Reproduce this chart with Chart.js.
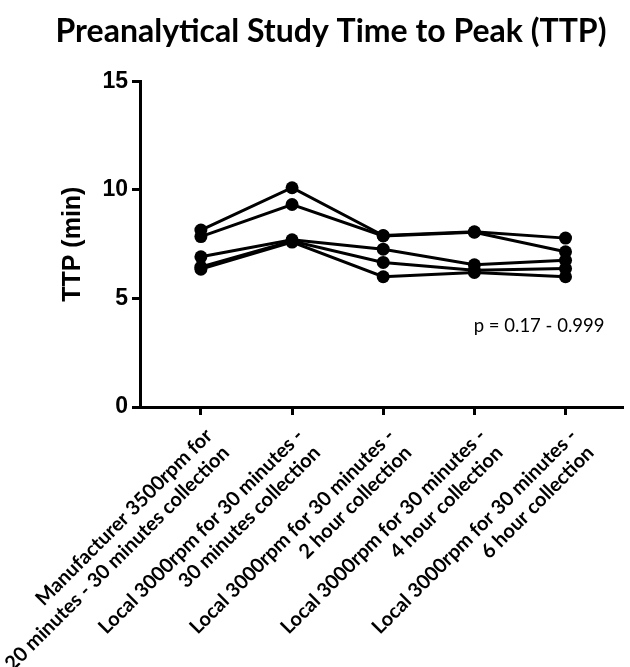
<!DOCTYPE html>
<html>
<head>
<meta charset="utf-8">
<script src="https://cdn.jsdelivr.net/npm/chart.js@4.4.0/dist/chart.umd.min.js"></script>
<style>
	html, body { margin: 0; padding: 0; background: #fff; }
	#wrap { width: 630px; height: 667px; }
</style>
</head>
<body>
<div id="wrap"><canvas id="myChart" width="630" height="667"></canvas></div>
<script>
// categories (two lines each, as on the original axis)
let categories = [
	['Manufacturer 3500rpm for', '20 minutes - 30 minutes collection'],
	['Local 3000rpm for 30 minutes -', '30 minutes collection'],
	['Local 3000rpm for 30 minutes -', '2 hour collection'],
	['Local 3000rpm for 30 minutes -', '4 hour collection'],
	['Local 3000rpm for 30 minutes -', '6 hour collection'],
]

// TTP (min) for each sample
let sample1 = [8.15, 10.1, 7.9, 8.07, 7.78]
let sample2 = [7.85, 9.33, 7.88, 8.05, 7.15]
let sample3 = [6.92, 7.7, 7.27, 6.55, 6.76]
let sample4 = [6.45, 7.65, 6.66, 6.3, 6.38]
let sample5 = [6.35, 7.6, 6.0, 6.2, 6.0]

let yTicks = [0, 5, 10, 15]
let pText = 'p = 0.17 - 0.999'

let allSamples = [sample1, sample2, sample3, sample4, sample5]

// ***** HELPERS *****
function toPoints(arr) {
	return arr.map((v, i) => ({ x: i, y: v }))
}

// draws the p value note inside the plot
let noteplugin = {
	id: 'pnote',
	afterDatasetsDraw(chart) {
		let ctx = chart.ctx
		let x = chart.scales.x.getPixelForValue(3.71)
		let y = chart.scales.y.getPixelForValue(3.73)
		ctx.save()
		ctx.font = '18.5px Lato'
		ctx.fillStyle = '#000'
		ctx.textAlign = 'center'
		ctx.textBaseline = 'middle'
		ctx.fillText(pText, x, y)
		ctx.restore()
	},
}

// nudge the rotated category labels a little to the right, like the original
let labelshift = {
	id: 'labelshift',
	beforeDraw(chart) {
		let items = chart.scales.x.getLabelItems(chart.chartArea)
		for (let item of items) {
			if (item._shifted) continue
			item.options.translation[0] += 8
			item.options.translation[1] -= 3
			item._shifted = true
		}
	},
}

// ***** CHART.JS *****
let ctx = document.getElementById('myChart').getContext('2d')
let myChart = new Chart(ctx, {
	type: 'line',
	data: {
		datasets: allSamples.map((s) => ({
			data: toPoints(s),
			borderColor: '#000',
			backgroundColor: '#000',
			borderWidth: 3,
			pointRadius: 6.5,
			pointBorderWidth: 0,
			tension: 0,
		})),
	},
	options: {
		responsive: false,
		animation: false,
		layout: { padding: { left: 32, right: 0, top: 0, bottom: 0 } },
		plugins: {
			legend: { display: false },
			tooltip: { enabled: false },
			title: {
				display: true,
				text: 'Preanalytical Study Time to Peak (TTP)',
				color: '#000',
				font: { family: 'Lato', size: 32, weight: 'bold' },
				padding: { top: 12, bottom: 31 },
			},
		},
		scales: {
			x: {
				type: 'linear',
				min: -0.668,
				max: 4.636,
				afterBuildTicks: (scale) => {
					scale.ticks = categories.map((_, i) => ({ value: i }))
				},
				afterFit: (scale) => {
					// keep the long rotated labels from pushing the plot around
					scale.height = 260
					scale.paddingLeft = 0
					scale.paddingRight = 0
				},
				ticks: {
					autoSkip: false,
					minRotation: 45,
					maxRotation: 45,
					padding: 12,
					color: '#000',
					font: { family: 'Lato', size: 20, weight: 'bold', lineHeight: 1.2 },
					callback: (v) => categories[v],
				},
				grid: {
					drawOnChartArea: false,
					tickLength: 8,
					tickWidth: 3,
					color: '#000',
				},
				border: { color: '#000', width: 3 },
			},
			y: {
				min: 0,
				max: 15,
				afterBuildTicks: (scale) => {
					scale.ticks = yTicks.map((v) => ({ value: v }))
				},
				afterFit: (scale) => {
					scale.width = 108
				},
				ticks: {
					padding: 4,
					color: '#000',
					font: { family: 'Liberation Sans', size: 23, weight: 'bold' },
				},
				title: {
					display: true,
					text: 'TTP (min)',
					color: '#000',
					font: { family: 'Liberation Sans', size: 25, weight: 'bold' },
					padding: { top: 26, bottom: 0 },
				},
				grid: {
					drawOnChartArea: false,
					tickLength: 8,
					tickWidth: 3,
					color: '#000',
				},
				border: { color: '#000', width: 3 },
			},
		},
	},
	plugins: [noteplugin, labelshift],
})
</script>
</body>
</html>
